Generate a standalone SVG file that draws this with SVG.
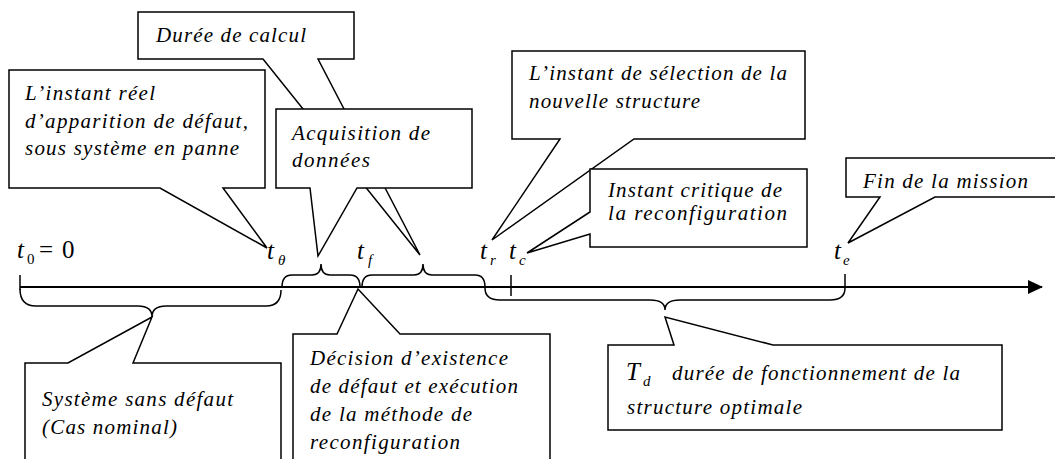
<svg xmlns="http://www.w3.org/2000/svg" width="1055" height="459" viewBox="0 0 1055 459" font-family="'Liberation Serif', 'Times New Roman', serif">
<style>
.box{fill:#fff;stroke:#000;stroke-width:1.5;stroke-linejoin:miter}
.txt{font-style:italic;font-size:21px;fill:#000}
.tv{font-style:italic;font-size:25px;fill:#000}
.sub{font-style:italic;font-size:15px;fill:#000}
.up{font-size:25px;fill:#000}
.subup{font-size:15px;fill:#000}
.ln{fill:none;stroke:#000;stroke-width:1.5}
.axis{fill:none;stroke:#000;stroke-width:2}
</style>
<defs>
<marker id="arr" markerWidth="16" markerHeight="16" refX="14" refY="7" orient="auto" markerUnits="userSpaceOnUse">
<path d="M0,0 L15,7 L0,14 Z" fill="#000"/>
</marker>
</defs>
<rect width="1055" height="459" fill="#fff"/>

<g id="connectors">
<line class="axis" x1="20" y1="287" x2="1042" y2="287" marker-end="url(#arr)"/>
<line class="ln" x1="20" y1="275" x2="20" y2="290"/>
<line class="ln" x1="511" y1="275" x2="511" y2="296"/>
<line class="ln" x1="845" y1="274" x2="845" y2="288"/>
<path class="ln" d="M20,289 C20,300 25,306 36,306 H138 C147,306 152,310 152,317 C152,310 157,306 166,306 H266 C276,306 281,300 281,290"/>
<path class="ln" d="M282,287 C282,279 285,275 292,275 H312 C318,275 321,271 321,264 C321,271 324,275 330,275 H350 C357,275 360,279 360,287"/>
<path class="ln" d="M362,287 C362,279 365,275 372,275 H414 C420,275 423,271 423,264 C423,271 426,275 432,275 H475 C482,275 485,279 485,287"/>
<path class="ln" d="M485,288 C485,296 490,300 500,300 H650 C660,300 665,304 665,310 C665,304 670,300 680,300 H830 C840,300 845,296 845,288"/>
</g>

<g id="time-labels">
<text class="tv" x="17" y="258">t</text><text class="subup" x="27" y="264">0</text><text class="up" x="39" y="258">=</text><text class="up" x="62" y="258">0</text>
<text class="tv" x="267" y="259">t</text><text class="sub" x="278" y="265">θ</text>
<text class="tv" x="357" y="259">t</text><text class="sub" x="368" y="265">f</text>
<text class="tv" x="480" y="259">t</text><text class="sub" x="490" y="265">r</text>
<text class="tv" x="509" y="259">t</text><text class="sub" x="519" y="265">c</text>
<text class="tv" x="834" y="259">t</text><text class="sub" x="843" y="265">e</text>
</g>

<g id="node-duree">
<path class="box" d="M138,12 H354 V59 H318 L420,255 L263,59 H138 Z"/>
<text class="txt" x="156" y="42" textLength="150" lengthAdjust="spacing">Durée de calcul</text>
</g>

<g id="node-instant-reel">
<path class="box" d="M9,70 H265 V188 H223 L267,248 L160,188 H9 Z"/>
<text class="txt" x="25" y="100" textLength="130" lengthAdjust="spacing">L’instant réel</text>
<text class="txt" x="25" y="128" textLength="223" lengthAdjust="spacing">d’apparition de défaut,</text>
<text class="txt" x="25" y="155" textLength="214" lengthAdjust="spacing">sous système en panne</text>
</g>

<g id="node-acquisition">
<path class="box" d="M276,109 H472 V188 H357 L318,256 L310,188 H276 Z"/>
<text class="txt" x="292" y="140" textLength="138" lengthAdjust="spacing">Acquisition de</text>
<text class="txt" x="292" y="167" textLength="78" lengthAdjust="spacing">données</text>
</g>

<g id="node-selection">
<path class="box" d="M512,51 H805 V139 H634 L492,240 L560,139 H512 Z"/>
<text class="txt" x="529" y="80" textLength="258" lengthAdjust="spacing">L’instant de sélection de la</text>
<text class="txt" x="529" y="108" textLength="171" lengthAdjust="spacing">nouvelle structure</text>
</g>

<g id="node-critique">
<path class="box" d="M590,169 H807 V247 H590 V234 L527,253 L590,212 Z"/>
<text class="txt" x="608" y="197" textLength="174" lengthAdjust="spacing">Instant critique de</text>
<text class="txt" x="608" y="220" textLength="179" lengthAdjust="spacing">la reconfiguration</text>
</g>

<g id="node-fin">
<path class="box" d="M846,158 H1062 V197 H935 L848,243 L880,197 H846 Z"/>
<text class="txt" x="863" y="188" textLength="165" lengthAdjust="spacing">Fin de la mission</text>
</g>

<g id="node-systeme">
<path class="box" d="M25,363 H68 L152,317 L133,363 H281 V470 H25 Z"/>
<text class="txt" x="42" y="406" textLength="191" lengthAdjust="spacing">Système sans défaut</text>
<text class="txt" x="42" y="434" textLength="135" lengthAdjust="spacing">(Cas nominal)</text>
</g>

<g id="node-decision">
<path class="box" d="M293,334 H337 L358,289 L400,334 H550 V470 H293 Z"/>
<text class="txt" x="310" y="365" textLength="198" lengthAdjust="spacing">Décision d’existence</text>
<text class="txt" x="310" y="393" textLength="208" lengthAdjust="spacing">de défaut et exécution</text>
<text class="txt" x="310" y="421" textLength="162" lengthAdjust="spacing">de la méthode de</text>
<text class="txt" x="310" y="449" textLength="150" lengthAdjust="spacing">reconfiguration</text>
</g>

<g id="node-td">
<path class="box" d="M608,345 H674 L665,317 L773,345 H1002 V430 H608 Z"/>
<text class="tv" x="626" y="380">T</text><text class="sub" x="643" y="386">d</text>
<text class="txt" x="672" y="380" textLength="288" lengthAdjust="spacing">durée de fonctionnement de la</text>
<text class="txt" x="627" y="414" textLength="175" lengthAdjust="spacing">structure optimale</text>
</g>
</svg>
